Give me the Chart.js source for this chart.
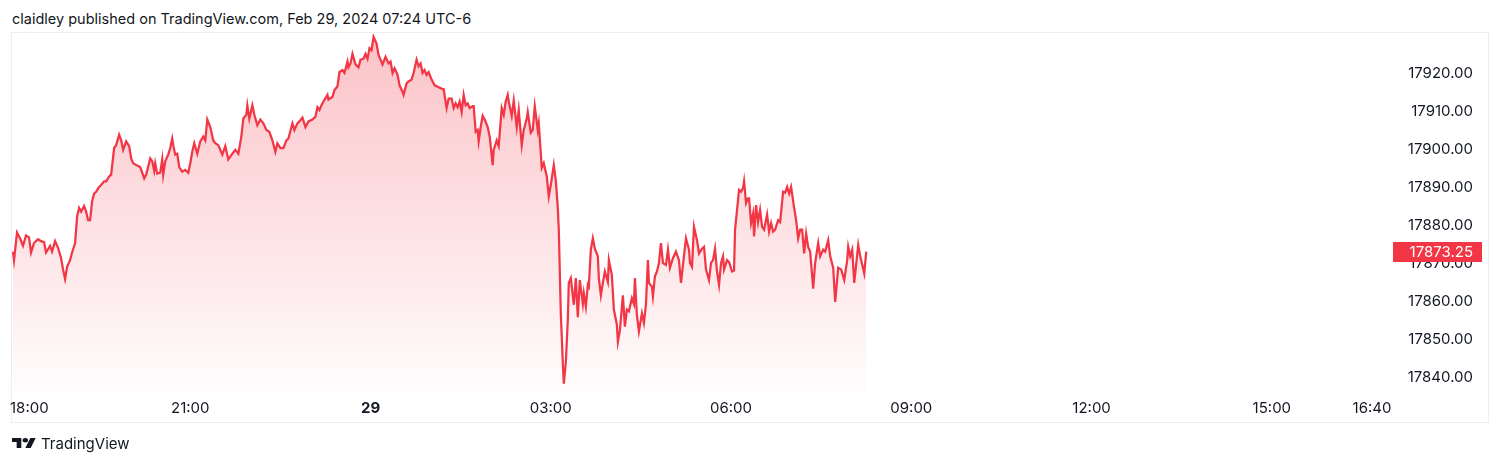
<!DOCTYPE html>
<html>
<head>
<meta charset="utf-8">
<title>NQ chart</title>
<script src="https://cdn.jsdelivr.net/npm/chart.js@4.4.1/dist/chart.umd.min.js"></script>
<style>
html, body { margin: 0; padding: 0; background: #fff; }
body { width: 1500px; height: 465px; position: relative; overflow: hidden; font-family: Inter, "Noto Sans", sans-serif; color: #131722; }
#title { position: absolute; left: 12px; top: 10px; font-size: 14.5px; white-space: nowrap; }
#frame { position: absolute; left: 11px; top: 32px; width: 1478px; height: 391px; border: 1px solid #eceef2; box-sizing: border-box; }
#chart { position: absolute; left: 0; top: 0; }
#brand { position: absolute; left: 12px; top: 434px; height: 18px; display: flex; align-items: center; }
#brand svg { width: 24px; height: 10px; margin-right: 5px; }
#brand span { font-size: 15px; }
</style>
</head>
<body>
<div id="title">claidley published on TradingView.com, Feb 29, 2024 07:24 UTC-6</div>
<div id="frame"></div>
<canvas id="chart" width="1500" height="465"></canvas>
<div id="brand">
  <svg viewBox="0 4 36 18" preserveAspectRatio="none"><path fill="#131722" d="M14 22H7V11H0V4h14v18zM28 22h-8l7.5-18h8L28 22z"/><circle fill="#131722" cx="20" cy="8" r="4"/></svg>
  <span>TradingView</span>
</div>
<script>
// minutes after 18:00 (Feb 28)
var minutes = [
	3,4,7,10,13,16,19,21,24,28,
	31,34,36,40,42,45,48,51,53,55,
	57,60,62,65,67,69,71,74,76,78,
	80,82,84,86,89,91,94,96,99,101,
	104,106,109,111,113,116,119,121,123,126,
	130,131,134,136,140,142,144,145,147,150,
	152,153,155,158,160,162,163,165,167,169,
	172,175,178,180,182,184,187,190,193,195,
	197,200,203,205,208,212,215,218,222,225,
	228,231,233,236,237,239,242,244,247,250,
	253,256,259,262,265,267,270,273,276,278,
	282,284,287,289,292,295,298,302,305,307,
	309,311,313,317,318,322,324,327,329,332,
	334,337,338,340,342,345,348,350,353,355,
	357,359,361,363,366,368,370,372,375,378,
	380,382,384,387,389,392,393,396,398,401,
	403,406,408,410,412,414,416,418,421,424,
	428,432,433,436,438,441,443,445,447,449,
	451,453,455,457,459,462,463,465,467,468,
	470,472,474,477,479,482,483,486,488,491,
	493,495,497,498,501,503,506,508,511,513,
	516,517,520,522,524,527,528,531,533,536,
	538,540,543,545,547,548,550,552,553,555,
	557,558,560,563,565,567,569,572,573,575,
	577,578,580,582,584,587,588,590,592,594,
	597,598,601,603,606,607,609,612,614,616,
	618,621,623,624,626,628,631,633,635,637,
	638,641,642,644,646,648,650,652,655,657,
	659,662,665,668,670,672,675,678,679,681,
	683,686,688,691,693,695,698,700,702,704,
	706,708,710,712,713,716,718,721,723,724,
	726,728,730,732,733,735,737,738,740,742,
	743,745,747,749,751,753,756,758,760,762,
	764,767,769,772,774,776,778,780,783,785,
	787,789,791,793,795,797,799,802,804,807,
	809,812,814,817,819,822,824,827,830,833,
	836,837,839,841,843,847,849,853,855
];

var prices = [
	17873.25,17871,17878.25,17876.75,17874.75,17877.5,17877,17873,17875.5,17876.5,
	17876,17875.75,17873,17874.75,17873.25,17876,17874.25,17871.5,17868.5,17866,
	17869.25,17871,17873,17875.5,17882.5,17884.75,17883.75,17885.25,17883.75,17881.5,
	17881.5,17886.5,17888.5,17889,17890.25,17890.75,17891.75,17891.75,17893,17893.5,
	17900.5,17901.25,17904,17902.5,17900,17902.25,17901,17897.75,17896.5,17896,
	17895.5,17894.75,17892.5,17893.5,17897.75,17897,17894.5,17896.5,17893.75,17894,
	17897.5,17893.5,17897,17898.75,17900.5,17903,17901.25,17898.75,17899,17895.5,
	17894.25,17894.75,17894,17896.5,17899.5,17901.75,17899,17902.25,17903.5,17902.5,
	17908,17906,17902.5,17901.75,17901.25,17898.75,17901,17897.5,17899,17900,
	17899,17903.5,17908.25,17909.25,17911.75,17908.25,17911.75,17909.25,17906.5,17908,
	17907,17905.25,17904.75,17902.5,17899.5,17901.75,17900.5,17900.5,17902.5,17903,
	17907,17905.25,17907,17907.5,17908.5,17906,17907.5,17908,17908.75,17911.25,
	17910.5,17911.75,17912.75,17914.5,17913.25,17914,17915.75,17916.75,17920.5,17921,
	17920.25,17923.25,17921.75,17922.75,17925.25,17922.5,17921.75,17923.75,17924,17925.25,
	17924,17926.75,17926.25,17929.75,17928,17925,17923.75,17922.5,17924.5,17922.75,
	17923.25,17920.25,17921.5,17919.75,17917,17915.25,17914.5,17917.5,17918,17918.5,
	17920.25,17923.75,17922,17922.75,17920.25,17921,17919.75,17920.5,17918.5,17917,
	17916.5,17916,17916,17911,17913.5,17913.5,17911,17912.25,17911.25,17912.75,
	17910,17914.5,17911.75,17912.25,17911,17911.5,17911.5,17904.75,17905.25,17902.25,
	17906,17909,17908,17906,17903.5,17896,17900,17902.5,17901,17911,
	17909.25,17912.75,17914.5,17912.75,17909,17913,17906,17910.5,17901.25,17905.25,
	17908.25,17910,17904.5,17905.25,17911.5,17905.25,17907,17895.25,17896.5,17893,
	17887.75,17890.75,17896,17892,17884.75,17879,17857,17844,17838.5,17844,
	17855.25,17865,17866.25,17859.25,17866.25,17856,17865.75,17859.5,17862.25,17858.75,
	17864.5,17864,17873.75,17876.75,17874,17872,17866.25,17861.75,17865,17868,
	17865.25,17871,17867,17858,17854,17849.5,17852.5,17861.75,17853.5,17858,
	17857.5,17861,17859.5,17866.25,17856.5,17852.25,17857,17854.5,17859.25,17871,
	17865,17864,17861.5,17866.75,17868,17870.25,17875.5,17870.25,17869.75,17873.75,
	17869,17871.5,17873.25,17871,17865,17869.75,17876.75,17873.75,17870.25,17869.25,
	17879.75,17876.25,17872.75,17874,17874.5,17868.5,17865.75,17870.25,17871,17874,
	17868,17864.5,17870.25,17872,17868.5,17871,17870.5,17868,17868.25,17879,
	17884.25,17889.5,17889,17890,17891.75,17886,17887.25,17887.25,17880.75,17883.25,
	17877.25,17885.5,17881,17884.25,17879.75,17879,17883,17878.5,17880.75,17878.5,
	17879,17881.5,17881,17889,17888.75,17890.25,17888.5,17890.25,17884.75,17881.5,
	17876.75,17879,17879,17872.75,17878,17874.5,17873.25,17863.5,17870.25,17875.5,
	17872,17873.75,17873.25,17876.25,17872,17869,17860,17869,17868.5,17865.75,
	17871,17874.5,17872,17873.75,17865,17875,17872,17867.5,17873.25
];

// x axis ticks (minutes after 18:00) and their labels
var timeTicks = [0, 180, 360, 540, 720, 900, 1080, 1260, 1360, 1380];
var timeLabels = ['18:00', '21:00', '29', '03:00', '06:00', '09:00', '12:00', '15:00', '16:40', ''];

// price scale
var priceTicks = [17840, 17850, 17860, 17870, 17880, 17890, 17900, 17910, 17920];

var lineColor = '#f23645';
var textColor = '#131722';
var fontFamily = 'Inter, "Noto Sans", sans-serif';
var axisFontSize = 15;

var points = minutes.map(function(m, i){
	return { x: m, y: prices[i] };
});
var lastPrice = prices[prices.length - 1];

// 마지막 가격 표시
var priceTag = {
	id: 'priceTag',
	afterDraw: function(chart){
		var yScale = chart.scales.y;
		var y = yScale.getPixelForValue(lastPrice);
		var c = chart.ctx;
		c.save();
		c.fillStyle = lineColor;
		c.fillRect(chart.chartArea.right + 1, Math.round(y) - 10, yScale.right - chart.chartArea.right + 8, 20);
		c.fillStyle = '#ffffff';
		c.font = axisFontSize + 'px ' + fontFamily;
		c.textAlign = 'right';
		c.textBaseline = 'middle';
		c.fillText(lastPrice.toFixed(2), yScale.right, y + 0.5);
		c.restore();
	}
};

var canvas = document.getElementById('chart');
var chart = new Chart(canvas, {
	type: 'line',
	data: {
		datasets: [{
			data: points,
			borderColor: lineColor,
			borderWidth: 2.25,
			pointRadius: 0,
			tension: 0,
			fill: 'start',
			backgroundColor: function(context){
				var area = context.chart.chartArea;
				if (!area) return 'rgba(242,54,69,0.15)';
				var g = context.chart.ctx.createLinearGradient(0, area.top, 0, area.bottom);
				g.addColorStop(0, 'rgba(242,54,69,0.30)');
				g.addColorStop(1, 'rgba(242,54,69,0.01)');
				return g;
			}
		}]
	},
	options: {
		responsive: false,
		animation: false,
		layout: { padding: { left: 10, top: 34, right: 27, bottom: 43 } },
		plugins: {
			legend: { display: false },
			tooltip: { enabled: false }
		},
		scales: {
			x: {
				type: 'linear',
				min: 0,
				max: 1380,
				grid: { display: false, drawTicks: false },
				border: { display: false },
				afterBuildTicks: function(scale){
					scale.ticks = timeTicks.map(function(v){ return { value: v }; });
				},
				afterFit: function(scale){
					scale.height = 30;
					scale.paddingLeft = 0;
					scale.paddingRight = 0;
				},
				ticks: {
					autoSkip: false,
					maxRotation: 0,
					align: 'inner',
					padding: 7,
					color: textColor,
					font: function(c){
						return { family: fontFamily, size: axisFontSize, weight: timeLabels[c.index] === '29' ? 'bold' : 'normal' };
					},
					callback: function(v, i){ return timeLabels[i]; }
				}
			},
			y: {
				position: 'right',
				min: 17836.3,
				max: 17930.5,
				grid: { display: false, drawTicks: false },
				border: { display: false },
				afterBuildTicks: function(scale){
					scale.ticks = priceTicks.map(function(v){ return { value: v }; });
				},
				afterFit: function(scale){
					scale.width = 81;
				},
				ticks: {
					crossAlign: 'far',
					padding: 0,
					color: textColor,
					font: { family: fontFamily, size: axisFontSize },
					callback: function(v){ return v.toFixed(2); }
				}
			}
		}
	},
	plugins: [priceTag]
});
</script>
</body>
</html>
